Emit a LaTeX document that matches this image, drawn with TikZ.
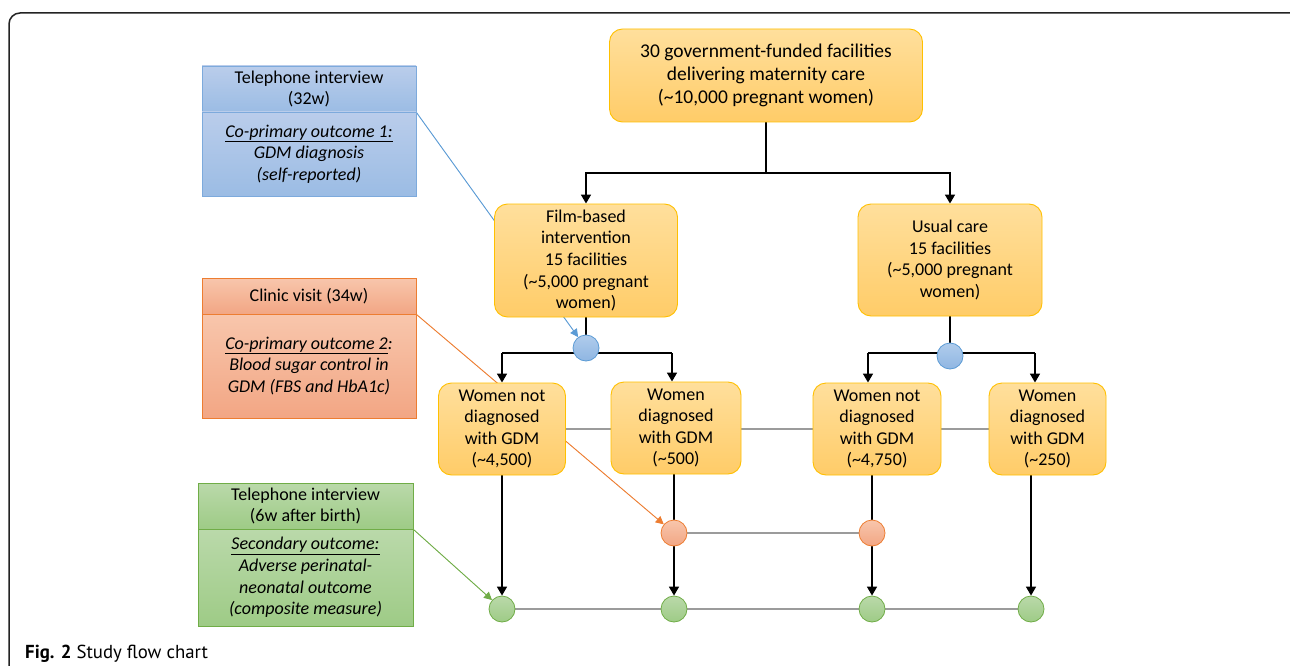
\documentclass[tikz,border=0pt]{standalone}
\usepackage{fontspec}
\setmainfont{Carlito}
\newfontfamily\capfont{PT Sans}
\usetikzlibrary{arrows.meta,backgrounds}
\definecolor{goldD}{RGB}{255,192,0}
\definecolor{goldT}{RGB}{255,223,156}
\definecolor{goldM}{RGB}{255,204,104}
\definecolor{blueD}{RGB}{125,170,220}
\definecolor{blueT}{RGB}{186,205,235}
\definecolor{blueM}{RGB}{155,188,228}
\definecolor{orD}{RGB}{237,125,49}
\definecolor{orT}{RGB}{248,198,172}
\definecolor{orM}{RGB}{242,166,132}
\definecolor{grD}{RGB}{112,173,71}
\definecolor{grT}{RGB}{186,217,170}
\definecolor{grM}{RGB}{158,203,134}
\definecolor{cbD}{RGB}{91,155,213}
\definecolor{cbT}{RGB}{176,204,236}
\definecolor{cbM}{RGB}{143,182,226}
\definecolor{grayL}{RGB}{155,155,155}
\definecolor{frameC}{RGB}{35,35,35}
\newcommand{\fbx}{\fontsize{18}{21.6}\selectfont}
\newcommand{\ftop}{\fontsize{19.5}{23.3}\selectfont}
\begin{document}
\begin{tikzpicture}[x=1pt,y=-1pt,
  goldbox/.style={draw=goldD, line width=0.9pt, rounded corners=13pt, top color=goldT, bottom color=goldM, align=center, inner sep=0pt, font=\fbx},
  bluebox/.style={draw=blueD, line width=0.8pt, top color=blueT, bottom color=blueM, align=center, inner sep=0pt, font=\fbx, minimum width=214pt},
  orangebox/.style={draw=orD, line width=0.8pt, top color=orT, bottom color=orM, align=center, inner sep=0pt, font=\fbx, minimum width=214pt},
  greenbox/.style={draw=grD, line width=0.8pt, top color=grT, bottom color=grM, align=center, inner sep=0pt, font=\fbx, minimum width=215pt},
  circb/.style={circle, draw=cbD, line width=0.8pt, top color=cbT, bottom color=cbM, minimum size=26pt, inner sep=0pt},
  circo/.style={circle, draw=orD, line width=0.8pt, top color=orT, bottom color=orM, minimum size=26pt, inner sep=0pt},
  circg/.style={circle, draw=grD, line width=0.8pt, top color=grT, bottom color=grM, minimum size=26pt, inner sep=0pt},
  blk/.style={draw=black, line width=1.6pt},
  arr/.style={-{Triangle[width=10pt,length=9pt]}},
  arrc/.style={-{Triangle[width=8pt,length=8pt]}},
  grayl/.style={draw=grayL, line width=1.8pt},
  thinl/.style={line width=0.9pt}
]
\useasboundingbox (0,0) rectangle (1290,666);
\clip (0,0) rectangle (1290,666);

% main nodes
\node[goldbox, font=\ftop, minimum width=313pt, minimum height=93pt] (top) at (766,75.5)
  {30 government-funded facilities\\delivering maternity care\\(\textasciitilde10,000 pregnant women)};
\node[goldbox, minimum width=183pt, minimum height=113pt] (film) at (586,260.5)
  {Film-based\\intervention\\15 facilities\\(\textasciitilde5,000 pregnant\\women)};
\node[goldbox, minimum width=184pt, minimum height=112pt] (usual) at (950,260)
  {Usual care\\15 facilities\\(\textasciitilde5,000 pregnant\\women)};
\node[goldbox, minimum width=127pt, minimum height=92pt] (wn1) at (502,429)
  {Women not\\diagnosed\\with GDM\\(\textasciitilde4,500)};
\node[goldbox, minimum width=130pt, minimum height=92pt] (wd1) at (676,428)
  {Women\\diagnosed\\with GDM\\(\textasciitilde500)};
\node[goldbox, minimum width=128pt, minimum height=92pt] (wn2) at (877,429)
  {Women not\\diagnosed\\with GDM\\(\textasciitilde4,750)};
\node[goldbox, minimum width=117pt, minimum height=92pt] (wd2) at (1047.5,429)
  {Women\\diagnosed\\with GDM\\(\textasciitilde250)};

% circles
\node[circb] (bc1) at (586,348) {};
\node[circb] (bc2) at (950,356) {};
\node[circo] (oc1) at (674,533) {};
\node[circo] (oc2) at (872,533) {};
\node[circg] (gc1) at (502,609) {};
\node[circg] (gc2) at (674,609) {};
\node[circg] (gc3) at (872,609) {};
\node[circg] (gc4) at (1031,609) {};

% left outcome boxes
\node[bluebox, minimum height=46pt] (bh) at (309,89) {Telephone interview\\(32w)};
\node[bluebox, minimum height=84pt, font=\fbx\itshape] (bb) at (309,154)
  {\underline{Co-primary outcome 1:}\\GDM diagnosis\\(self-reported)};
\node[orangebox, minimum height=36pt] (oh) at (309,296) {Clinic visit (34w)};
\node[orangebox, minimum height=104pt, font=\fbx\itshape] (ob) at (309,366)
  {\underline{Co-primary outcome 2}:\\Blood sugar control in\\GDM (FBS and HbA1c)};
\node[greenbox, minimum height=46pt] (gh) at (305.5,506) {Telephone interview\\(6w after birth)};
\node[greenbox, minimum height=97pt, font=\fbx\itshape] (gb) at (305.5,577.5)
  {\underline{Secondary outcome:}\\Adverse perinatal-\\neonatal outcome\\(composite measure)};

% caption
\node[anchor=base west, inner sep=0pt, font=\capfont\fontsize{18.8}{22}\selectfont] (cap) at (25,658)
  {\textbf{Fig. 2} Study flow chart};

\begin{scope}[on background layer]
  \fill[white] (0,0) rectangle (1290,666);
  \draw[frameC, line width=1.5pt, rounded corners=11pt] (9,13) rectangle (1330,720);
  % connectors
  \coordinate (sp) at (766,173);
  \draw[blk] (top.south) -- (sp);
  \draw[blk,arr] (sp) -| (film.north);
  \draw[blk,arr] (sp) -| (usual.north);
  \draw[blk] (film.south) -- (bc1);
  \coordinate (h1l) at (502,353);
  \coordinate (h1r) at (672,353);
  \draw[blk] (h1l) -- (h1r);
  \draw[blk,arr] (h1l) -- (wn1.north);
  \draw[blk,arr] (h1r) -- (h1r |- wd1.north);
  \draw[blk] (usual.south) -- (bc2);
  \coordinate (h2l) at (868,353);
  \coordinate (h2r) at (1035,353);
  \draw[blk] (h2l) -- (h2r);
  \draw[blk,arr] (h2l) -- (h2l |- wn2.north);
  \draw[blk,arr] (h2r) -- (h2r |- wd2.north);
  % gray links
  \draw[grayl] (wn1.east) -- (wd2.west);
  \draw[grayl] (oc1) -- (oc2);
  \draw[grayl] (gc1) -- (gc4);
  % lower arrows
  \draw[blk,arr] (wn1.south) -- (gc1);
  \draw[blk] (wd1.south -| oc1) -- (oc1);
  \draw[blk,arr] (oc1) -- (gc2);
  \draw[blk] (wn2.south -| oc2) -- (oc2);
  \draw[blk,arr] (oc2) -- (gc3);
  \draw[blk,arr] (wd2.south -| gc4) -- (gc4);
  % coloured pointers
  \draw[thinl, draw=cbD, fill=cbD, arrc] (bh.south east) -- (bc1);
  \draw[thinl, draw=orD, fill=orD, arrc] (oh.south east) -- (oc1);
  \draw[thinl, draw=grD, fill=grD, arrc] (gh.south east) -- (gc1);
\end{scope}
\end{tikzpicture}
\end{document}
